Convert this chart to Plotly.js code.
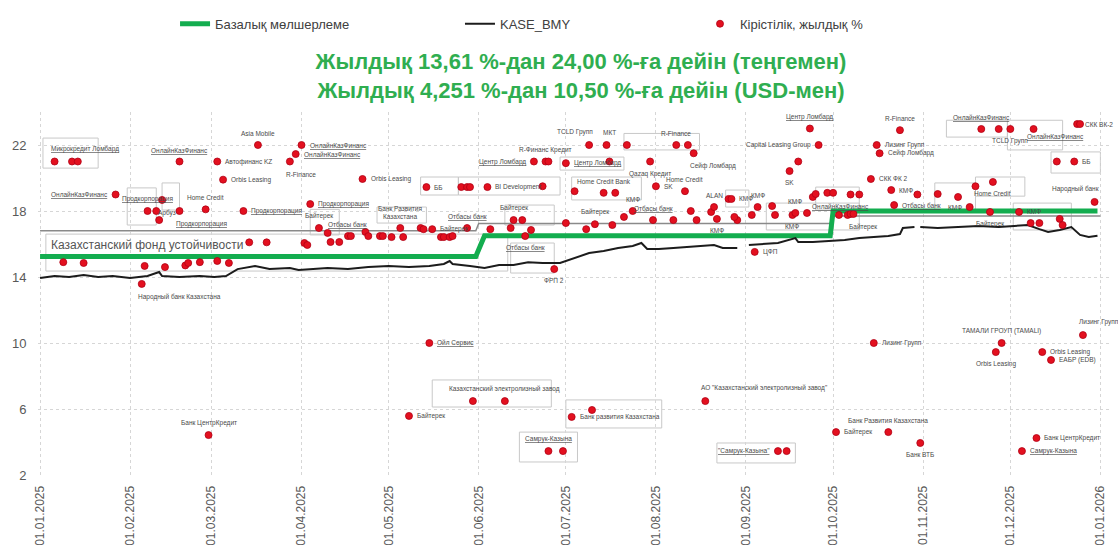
<!DOCTYPE html>
<html>
<head>
<meta charset="utf-8">
<script src="https://cdn.plot.ly/plotly-3.0.1.min.js"></script>
<style>html,body{margin:0;padding:0;background:#fff;}#chart{width:1118px;height:545px;}</style>
</head>
<body>
<div id="chart"></div>
<script>
// ---- Series data ----
const seriesNames = ['Базалық мөлшерлеме', 'KASE_BMY', 'Кірістілік, жылдық %'];
const titleLines = ['Жылдық 13,61 %-дан 24,00 %-ға дейін (теңгемен)', 'Жылдық 4,251 %-дан 10,50 %-ға дейін (USD-мен)'];

const baseDates = ['2025-01-01','2025-05-31','2025-06-03','2025-09-30','2025-10-01','2025-12-31'];
const baseRate  = [15.25, 15.25, 16.5, 16.5, 18.0, 18.0];

const fundName = 'Казахстанский фонд устойчивости';
const fundDates = ['2025-01-01','2025-05-31','2025-06-01','2025-09-30','2025-10-01','2026-01-01'];
const fundYield = [16.8, 16.8, 17.25, 17.25, 17.7, 17.7];

const kaseDates = ['2025-01-01','2025-01-06','2025-01-11','2025-01-16','2025-01-21','2025-01-26','2025-02-01','2025-02-07','2025-02-11','2025-02-12',
  '2025-02-18','2025-02-25','2025-03-02','2025-03-06','2025-03-10','2025-03-16','2025-03-21','2025-03-28','2025-03-31','2025-04-05',
  '2025-04-10','2025-04-17','2025-04-24','2025-05-01','2025-05-08','2025-05-15','2025-05-20','2025-05-22','2025-05-23','2025-05-29',
  '2025-06-03','2025-06-08','2025-06-13','2025-06-18','2025-06-23','2025-06-29','2025-07-04','2025-07-09','2025-07-14','2025-07-19',
  '2025-07-24','2025-07-27','2025-07-29','2025-08-02','2025-08-07','2025-08-12','2025-08-18','2025-08-21','2025-08-24','2025-08-29',
  '2025-09-01','2025-09-02','2025-09-07','2025-09-12','2025-09-18','2025-09-19','2025-09-24','2025-09-30','2025-10-05','2025-10-10',
  '2025-10-15','2025-10-20','2025-10-24','2025-10-25','2025-10-29','2025-10-30','2025-10-31','2025-11-06','2025-11-13','2025-11-20',
  '2025-11-27','2025-12-02','2025-12-07','2025-12-11','2025-12-14','2025-12-18','2025-12-22','2025-12-25','2025-12-28','2025-12-31'];
const kaseYield = [13.94,14.06,14.0,14.12,14.0,14.06,13.94,14.06,14.3,14.06,
  14.0,14.06,14.0,14.06,14.48,14.67,14.48,14.55,14.42,14.48,
  14.55,14.48,14.6,14.67,14.6,14.67,14.79,14.97,14.79,14.67,
  14.55,14.73,14.73,14.9,14.85,14.85,15.15,15.45,15.58,15.76,
  15.88,16.06,15.7,15.7,15.76,15.82,15.88,15.94,15.76,15.76,
  null,15.94,16.0,16.06,16.36,16.12,16.12,16.18,16.24,16.36,
  16.42,16.48,16.6,16.97,17.03,null,17.03,16.97,17.03,17.09,
  17.03,17.09,17.15,16.9,16.73,16.85,17.03,16.55,16.42,16.5];

// Issues: placement date, yield, issuer
const dotDates = ['2025-01-06','2025-01-12','2025-01-14','2025-01-27','2025-02-18','2025-03-03','2025-03-05','2025-03-17','2025-03-28','2025-02-12',
  '2025-02-07','2025-02-10','2025-02-11','2025-02-18','2025-02-27','2025-03-12','2025-03-14','2025-03-20','2025-01-09','2025-01-16',
  '2025-02-06','2025-02-13','2025-02-20','2025-02-21','2025-02-25','2025-03-03','2025-03-07','2025-02-05','2025-04-01','2025-03-30',
  '2025-04-22','2025-04-04','2025-04-07','2025-04-10','2025-04-11','2025-04-14','2025-04-17','2025-04-18','2025-04-23','2025-04-24',
  '2025-04-28','2025-04-29','2025-05-02','2025-05-05','2025-05-06','2025-05-12','2025-05-13','2025-05-16','2025-05-19','2025-05-20',
  '2025-05-22','2025-05-23','2025-05-28','2025-06-05','2025-06-13','2025-06-16','2025-06-12','2025-06-19','2025-06-17','2025-06-27',
  '2025-04-02','2025-04-03','2025-05-14','2025-05-26','2025-05-28','2025-05-29','2025-06-04','2025-06-23','2025-06-20','2025-06-24',
  '2025-06-25','2025-07-01','2025-07-09','2025-07-15','2025-07-22','2025-08-08','2025-08-12','2025-08-14','2025-07-16','2025-07-30',
  '2025-07-04','2025-07-14','2025-07-18','2025-08-01','2025-08-11','2025-07-24','2025-07-21','2025-07-01','2025-07-08','2025-07-11',
  '2025-07-17','2025-07-31','2025-08-07','2025-08-15','2025-08-13','2025-08-20','2025-08-21','2025-08-22','2025-08-26','2025-08-27',
  '2025-08-29','2025-08-28','2025-09-03','2025-09-05','2025-09-04','2025-09-10','2025-09-11','2025-09-17','2025-09-18','2025-09-22',
  '2025-09-16','2025-09-19','2025-09-23','2025-09-26','2025-09-24','2025-09-25','2025-09-29','2025-10-01','2025-10-07','2025-10-03',
  '2025-10-06','2025-10-24','2025-10-16','2025-10-17','2025-10-14','2025-10-21','2025-10-10','2025-10-30','2025-10-22','2025-10-07',
  '2025-10-08','2025-11-06','2025-11-13','2025-11-17','2025-11-19','2025-11-25','2025-11-24','2025-12-04','2025-12-08','2025-12-11',
  '2025-12-18','2025-12-19','2025-12-30','2025-11-21','2025-11-27','2025-12-01','2025-12-09','2025-12-24','2025-12-25','2025-12-17',
  '2025-12-23','2025-02-28','2025-05-15','2025-05-08','2025-05-30','2025-06-10','2025-06-25','2025-06-30','2025-07-03','2025-07-10',
  '2025-08-18','2025-09-12','2025-09-15','2025-10-15','2025-11-28','2025-11-26','2025-12-12','2025-12-15','2025-12-26','2025-10-02',
  '2025-10-20','2025-10-31','2025-12-10','2025-12-05'];
const dotYields = [21.0,21.0,21.0,19.0,21.0,21.0,19.9,22.0,21.0,18.67,
  18.0,18.0,17.45,18.0,18.1,18.0,16.1,16.1,14.9,14.85,
  14.67,14.6,14.7,14.85,14.9,14.97,14.85,13.58,22.0,21.45,
  19.94,18.42,16.97,16.67,16.12,16.12,16.48,16.48,16.73,16.48,
  16.48,16.48,16.42,16.97,16.42,16.97,16.9,16.9,16.42,16.42,
  16.42,16.48,16.97,16.9,17.45,17.45,16.97,16.85,16.48,14.48,
  16.06,15.94,19.45,19.45,19.45,19.45,19.45,19.5,21.0,21.0,
  21.0,20.9,22.0,22.0,22.0,22.0,22.0,21.5,21.0,21.0,
  19.2,19.1,19.1,19.5,19.2,18.0,17.64,17.27,16.9,17.2,
  17.15,17.45,17.45,17.45,18.0,17.94,18.24,17.52,18.73,18.73,
  17.45,17.64,17.76,18.24,15.52,18.3,17.76,17.76,17.88,17.88,
  20.42,21.0,23.0,22.0,18.85,19.03,19.1,19.1,19.0,17.76,
  17.76,22.9,22.0,21.5,19.94,19.27,19.0,19.0,18.36,17.82,
  17.82,19.03,18.85,18.24,19.5,19.76,17.94,17.94,17.27,17.27,
  17.52,17.15,18.55,22.97,22.97,22.97,22.97,23.27,23.27,21.0,
  21.0,4.42,10.0,5.58,6.48,6.48,3.45,3.45,5.52,5.94,
  6.48,3.45,3.45,10.0,10.0,9.45,9.45,8.97,10.48,4.6,
  4.6,3.94,4.24,3.45];
const dotIssuers = ['Микрокредит Ломбард','','','ОнлайнКазФинанс','ОнлайнКазФинанс','Автофинанс KZ','Orbis Leasing','Asia Mobile','R-Finance','Арбуз',
  'Продкорпорация','','','Продкорпорация','Home Credit','Продкорпорация','','','','',
  '','','','','','','','Народный банк Казахстана','ОнлайнКазФинанс','ОнлайнКазФинанс',
  'Orbis Leasing','Продкорпорация','Байтерек','','','','Отбасы банк','','','',
  '','','','Банк Развития<br>Казахстана','','','','Байтерек','','',
  '','','Отбасы банк','','Байтерек','','','','Отбасы банк','ФРП 2',
  '','','ББ','','','','BI Development','','Центр Ломбард','R-Финанс Кредит',
  '','Центр Ломбард','TCLD Групп','МКТ','','R-Finance','','Сейф Ломбард','','Qazaq Кредит',
  '','Home Credit Bank','','SK','Home Credit','КМФ','','','','Байтерек',
  '','Отбасы банк','','','','','ALAN','КМФ','','КМФ',
  '','','','КМФ','ЦФП','','','КМФ','КМФ','',
  'SK','','Центр Ломбард','Capital Leasing Group','','ОнлайнКазФинанс','','','','',
  '','R-Finance','Лизинг Групп','Сейф Ломбард','СКК ФК 2','КМФ','','','Отбасы банк','',
  'Байтерек','','','КМФ','','Home Credit','Байтерек','КМФ','','',
  '','','Народный банк','ОнлайнКазФинанс','','TCLD Групп','','СКК ВК-2','ОнлайнКазФинанс','',
  'ББ','Банк ЦентрКредит','Ойл Сервис','Байтерек','','Казахстанский электролизный завод','Самрук-Казына','','Банк развития Казахстана','',
  'АО "Казахстанский электролизный завод"','"Самрук-Казына"','','Лизинг Групп','ТАМАЛИ ГРОУП (TAMALI)','Orbis Leasing','Orbis Leasing','ЕАБР (EDB)','Лизинг Групп','Байтерек',
  'Банк Развития Казахстана','Банк ВТБ','Банк ЦентрКредит','Самрук-Казына'];
const dotLabelSide = ['tr','','','l','t','r','r','t','br','br',
  't','','','br','t','r','','','','',
  '','','','','','','','br','r','r',
  'r','r','t','','','','t','','','',
  '','','','t','','','','r','','',
  '','','t','','t','','','','b','b',
  '','','r','','','','r','','l','t',
  '','r','tl','tr','','t','','br','','b',
  '','t','','r','t','t','','','','t',
  '','t','','','','','t','b','','r',
  '','','','t','r','','','b','t','',
  'b','','t','l','','br','','','','',
  '','t','r','r','r','r','','','r','',
  'br','','','l','','b','b','r','','',
  '','','tl','t','','b','','r','bl','',
  'r','t','r','r','','t','t','','r','',
  'tr','l','','r','t','b','r','r','tr','r',
  't','b','r','r'];
const underlinedIssuers = ['Микрокредит Ломбард','ОнлайнКазФинанс','Продкорпорация','Отбасы банк','Самрук-Казына','"Самрук-Казына"','Центр Ломбард','Ойл Сервис'];

// Boxes drawn around groups of labelled issues: [x0, x1, y0, y1]
const groupBoxes = [
  ['2025-01-02','2025-01-21',20.6,22.42], ['2025-01-03','2025-06-11',14.36,16.6],
  ['2025-01-31','2025-02-10',17.15,19.4], ['2025-02-12','2025-02-18',18.06,19.7],
  ['2025-04-04','2025-04-14',16.55,18.1], ['2025-04-27','2025-05-14',17.27,18.24],
  ['2025-06-10','2025-06-27',17.15,18.36], ['2025-05-12','2025-05-25',18.97,20.06],
  ['2025-05-25','2025-06-29',18.97,20.06], ['2025-07-21','2025-08-16',21.7,22.7],
  ['2025-06-29','2025-07-21',20.48,21.27], ['2025-07-03','2025-07-27',18.67,20.06],
  ['2025-08-25','2025-09-02',18.24,19.27], ['2025-09-08','2025-10-10',16.85,18.48],
  ['2025-09-25','2025-10-10',18.06,19.45], ['2025-11-09','2025-11-30',22.48,23.5],
  ['2025-11-30','2025-12-19',21.7,23.5], ['2025-12-15','2026-01-01',20.3,21.58],
  ['2025-11-05','2025-11-19',18.06,19.7], ['2025-11-19','2025-12-06',18.9,20.06],
  ['2025-12-02','2025-12-22',16.85,18.48], ['2025-06-12','2025-06-27',14.24,16.06],
  ['2025-05-16','2025-06-26',6.12,7.76], ['2025-06-15','2025-07-05',2.79,4.6],
  ['2025-07-01','2025-08-03',4.85,6.55], ['2025-08-22','2025-09-18',2.73,3.94]
];

const tickDates = ['2025-01-01','2025-02-01','2025-03-01','2025-04-01','2025-05-01','2025-06-01','2025-07-01','2025-08-01','2025-09-01','2025-10-01','2025-11-01','2025-12-01','2026-01-01'];
const tickLabels = ['01.01.2025','01.02.2025','01.03.2025','01.04.2025','01.05.2025','01.06.2025','01.07.2025','01.08.2025','01.09.2025','01.10.2025','01.11.2025','01.12.2025','01.01.2026'];
const yTicks = [2, 6, 10, 14, 18, 22];

// ---- Styling ----
const GREEN = '#13ad4f';
const TITLE_GREEN = '#2fae50';
const RED = '#e3101f';
const FONT = 'Liberation Sans, Arial, sans-serif';

const traces = [
  {type:'scatter', mode:'lines', x:fundDates, y:fundYield, name:fundName, showlegend:false,
   line:{color:'#8a8a8a', width:1.5}, hoverinfo:'skip'},
  {type:'scatter', mode:'lines', x:baseDates, y:baseRate, name:seriesNames[0], legend:'legend',
   line:{color:GREEN, width:5}},
  {type:'scatter', mode:'lines', x:kaseDates, y:kaseYield, name:seriesNames[1], legend:'legend2',
   line:{color:'#1c1c1c', width:2}, connectgaps:false},
  {type:'scatter', mode:'markers', x:dotDates, y:dotYields, name:seriesNames[2], legend:'legend3',
   text:dotIssuers, marker:{color:RED, size:7, line:{color:'#b00014', width:0.8}}}
];

const sideCfg = {
  r:{xa:'left', ya:'middle', dx:6, dy:0},
  l:{xa:'right', ya:'middle', dx:-6, dy:0},
  t:{xa:'center', ya:'bottom', dx:0, dy:6},
  b:{xa:'center', ya:'top', dx:0, dy:-6},
  tr:{xa:'left', ya:'bottom', dx:-6, dy:7},
  tl:{xa:'right', ya:'bottom', dx:6, dy:7},
  br:{xa:'left', ya:'top', dx:-6, dy:-7},
  bl:{xa:'right', ya:'top', dx:6, dy:-7}
};

const annotations = [];
dotIssuers.forEach((name, i) => {
  if (!name) return;
  const c = sideCfg[dotLabelSide[i]] || sideCfg.r;
  const u = underlinedIssuers.includes(name);
  annotations.push({
    x: dotDates[i], y: dotYields[i], xref:'x', yref:'y', showarrow:false,
    text: u ? '<span style="text-decoration:underline;text-decoration-color:#e3101f">' + name + '</span>' : name,
    xanchor:c.xa, yanchor:c.ya, xshift:c.dx, yshift:c.dy,
    font:{family:FONT, size:6.5, color:'#4a4a4a'}
  });
});
annotations.push({
  x: '2025-01-04', y: 15.95, xref:'x', yref:'y', showarrow:false, text: fundName,
  xanchor:'left', yanchor:'middle', font:{family:FONT, size:12, color:'#555555'}
});

const shapes = groupBoxes.map(b => ({
  type:'rect', xref:'x', yref:'y', x0:b[0], x1:b[1], y0:b[2], y1:b[3],
  line:{color:'#c8c8c8', width:1}, layer:'below'
}));

const legendBase = {orientation:'h', xanchor:'left', yanchor:'middle', y:1.243,
  bgcolor:'rgba(0,0,0,0)', font:{family:FONT, size:13, color:'#404040'}};

const layout = {
  width:1118, height:545,
  margin:{l:38, r:6, t:112, b:70},
  paper_bgcolor:'#ffffff', plot_bgcolor:'#ffffff',
  font:{family:FONT, color:'#404040'},
  title:{text:'<b>' + titleLines[0] + '</b><br><b>' + titleLines[1] + '</b>',
    x:0.5056, xanchor:'center', xref:'paper', yref:'container', y:0.873, yanchor:'top',
    font:{family:FONT, size:22, color:TITLE_GREEN}},
  showlegend:true,
  legend:Object.assign({}, legendBase, {x:0.1276}),
  legend2:Object.assign({}, legendBase, {x:0.3929}),
  legend3:Object.assign({}, legendBase, {x:0.6164}),
  xaxis:{type:'date', range:['2024-12-31 07:00','2026-01-05'],
    tickmode:'array', tickvals:tickDates, ticktext:tickLabels, tickangle:-90,
    tickfont:{family:FONT, size:12, color:'#595959'},
    showgrid:true, gridcolor:'#d6d6d6', griddash:'dot', gridwidth:1,
    zeroline:false, showline:false, ticks:'outside', ticklen:5, tickcolor:'rgba(0,0,0,0)'},
  yaxis:{range:[2,24], tickmode:'array', tickvals:yTicks,
    tickfont:{family:FONT, size:13, color:'#595959'},
    showgrid:true, gridcolor:'#d6d6d6', griddash:'dot', gridwidth:1,
    zeroline:false, showline:false, ticks:'outside', ticklen:8, tickcolor:'rgba(0,0,0,0)'},
  annotations:annotations,
  shapes:shapes,
  hovermode:false
};

Plotly.newPlot('chart', traces, layout, {displayModeBar:false, staticPlot:true});
</script>
</body>
</html>
